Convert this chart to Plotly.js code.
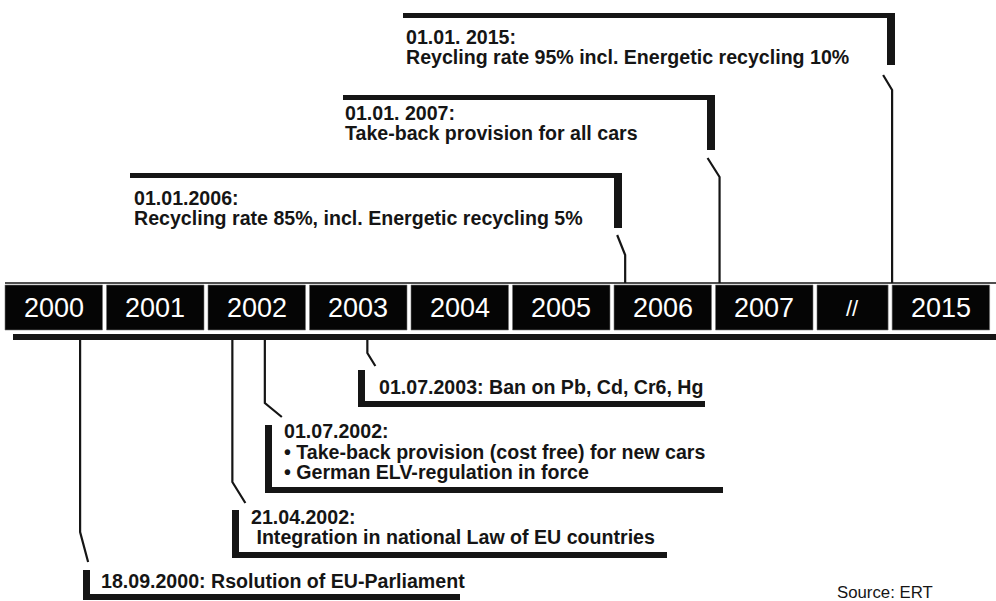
<!DOCTYPE html>
<html><head><meta charset="utf-8">
<script src="https://cdn.plot.ly/plotly-3.0.1.min.js"></script>
<style>html,body{margin:0;padding:0;background:#fff}#chart{width:996px;height:601px}</style>
</head><body><div id="chart"></div>
<script>
// ---------- DATA ----------
const years = ['2000','2001','2002','2003','2004','2005','2006','2007','//','2015'];
const eventDates = ['01.01.2006:','01.01. 2007:','01.01. 2015:','01.07.2003:','01.07.2002:','21.04.2002:','18.09.2000:'];
const eventTexts = [
  ['Recycling rate 85%, incl. Energetic recycling 5%'],
  ['Take-back provision for all cars'],
  ['Reycling rate 95% incl. Energetic recycling 10%'],
  ['Ban on Pb, Cd, Cr6, Hg'],
  ['\u2022 Take-back provision (cost free) for new cars', '\u2022 German ELV-regulation in force'],
  ['\u00a0Integration in national Law of EU countries'],
  ['Rsolution of EU-Parliament']
];
// position of each event on the timeline (in year-slot units)
const eventPos = [6.11, 7.04, 8.74, 3.57, 2.56, 2.24, 0.74];
const sourceText = 'Source: ERT';

// ---------- LAYOUT / STYLE (pixels) ----------
const W = 996, H = 601;
const PPU = 101.5, ORIGIN = 5;              // pixels per slot, pixel of slot 0
const X = px => (px - ORIGIN) / PPU;        // pixel -> axis units
const DX = d => d / PPU;
const slotW = years.map(y => y === '//' ? 0.74 : 1);
const slotStart = [];
slotW.reduce((acc, w, i) => { slotStart[i] = acc; return acc + w; }, 0);

const INK = '#151515';
const FONT = 'Liberation Sans, Arial, sans-serif';
const TXT = 19.6;

// callout geometry per event
const callouts = [
  {side:'top', knee:255, end:[-8,235], box:{l:130, r:622, t:173, b:228}, tx:132, ty:[198,218], inline:false},
  {side:'top', knee:177, end:[-12,158], box:{l:343, r:715, t:95, b:150}, tx:343, ty:[113,133], inline:false},
  {side:'top', knee:90, end:[-9,75], box:{l:403, r:895, t:13, b:65}, tx:404, ty:[37,57], inline:false},
  {side:'bottom', knee:353, end:[8,366], box:{l:358, r:705, t:370, b:407}, tx:377, ty:[387], inline:true},
  {side:'bottom', knee:403, end:[17,417], box:{l:265, r:723, t:425, b:493}, tx:282, ty:[431,452,472], inline:false},
  {side:'bottom', knee:482, end:[13,503], box:{l:232, r:667, t:510, b:558}, tx:249, ty:[517,537], inline:false},
  {side:'bottom', knee:532, end:[8,562], box:{l:83, r:460, t:570, b:600}, tx:99, ty:[581], inline:true}
];

const shapes = [];
const annotations = [];

// timeline: top thin line
shapes.push({type:'line', xref:'x', yref:'y', x0:X(5), x1:X(996), y0:283, y1:283, line:{color:INK, width:1.5}});
// bottom thick line
shapes.push({type:'rect', xref:'x', yref:'y', x0:X(13), x1:X(996), y0:334, y1:340, fillcolor:INK, line:{width:0}});
// year boxes
years.forEach((y, i) => {
  shapes.push({type:'rect', xref:'x', yref:'y', x0:slotStart[i], x1:slotStart[i] + slotW[i] - DX(4),
    y0:285, y1:330, fillcolor:'#050505', line:{color:'#777', width:0.6}});
  annotations.push({xref:'x', yref:'y', x:slotStart[i] + (slotW[i] - DX(4)) / 2, y:308,
    text: y, showarrow:false, xanchor:'center', yanchor:'middle',
    font:{family:FONT, size: y === '//' ? 22 : 27, color:'#ffffff'}});
});

// events
eventPos.forEach((p, i) => {
  const c = callouts[i];
  const base = c.side === 'top' ? 283 : 340;
  // connector
  shapes.push({type:'path', xref:'x', yref:'y',
    path:`M ${p},${base} L ${p},${c.knee} L ${p + DX(c.end[0])},${c.end[1]}`,
    line:{color:INK, width:2.2}});
  const b = c.box;
  if (c.side === 'top') {
    shapes.push({type:'rect', xref:'x', yref:'y', x0:X(b.l), x1:X(b.r), y0:b.t, y1:b.t + 5, fillcolor:INK, line:{width:0}});
    shapes.push({type:'rect', xref:'x', yref:'y', x0:X(b.r - 8), x1:X(b.r), y0:b.t, y1:b.b, fillcolor:INK, line:{width:0}});
  } else {
    shapes.push({type:'rect', xref:'x', yref:'y', x0:X(b.l), x1:X(b.r), y0:b.b - 6, y1:b.b, fillcolor:INK, line:{width:0}});
    shapes.push({type:'rect', xref:'x', yref:'y', x0:X(b.l), x1:X(b.l + 7), y0:b.t, y1:b.b, fillcolor:INK, line:{width:0}});
  }
  const lines = c.inline ? [eventDates[i] + ' ' + eventTexts[i][0]] : [eventDates[i]].concat(eventTexts[i]);
  lines.forEach((t, k) => {
    annotations.push({xref:'x', yref:'y', x:X(c.tx), y:c.ty[k], text:'<b>' + t + '</b>', showarrow:false,
      xanchor:'left', yanchor:'middle', font:{family:FONT, size:TXT, color:INK}});
  });
});

annotations.push({xref:'x', yref:'y', x:X(835), y:592, text:sourceText, showarrow:false,
  xanchor:'left', yanchor:'middle', font:{family:FONT, size:16.8, color:INK}});

const layout = {
  width:W, height:H, margin:{l:0, r:0, t:0, b:0},
  paper_bgcolor:'#ffffff', plot_bgcolor:'#ffffff', showlegend:false,
  xaxis:{range:[X(0), X(W)], visible:false, fixedrange:true},
  yaxis:{range:[H, 0], visible:false, fixedrange:true},
  shapes, annotations
};
Plotly.newPlot('chart', [{x:[], y:[], type:'scatter', hoverinfo:'skip'}], layout, {staticPlot:true, displayModeBar:false});
</script></body></html>
